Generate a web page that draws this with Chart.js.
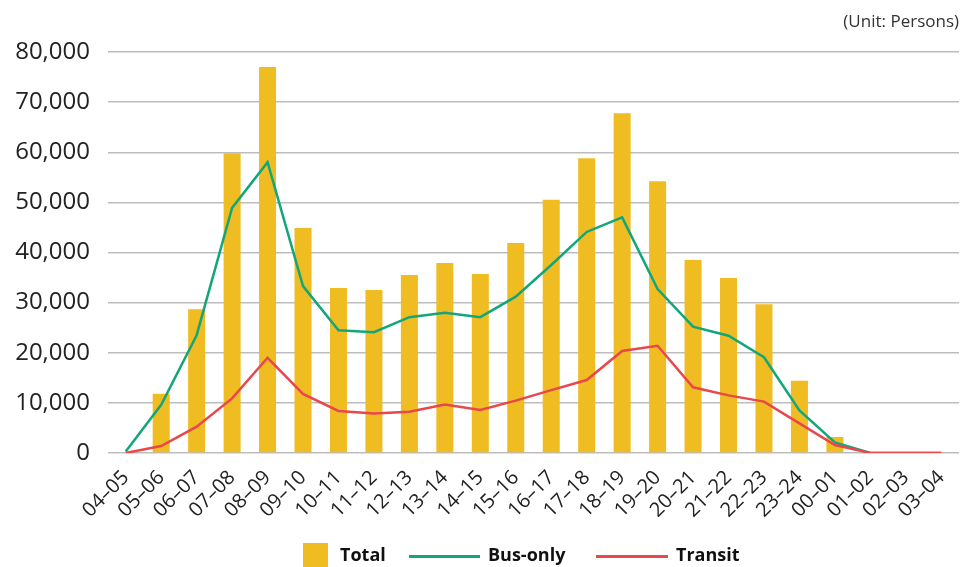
<!DOCTYPE html>
<html>
<head>
<meta charset="utf-8">
<script src="https://cdn.jsdelivr.net/npm/chart.js@4.4.0/dist/chart.umd.min.js"></script>
<style>
  html, body { margin: 0; padding: 0; background: #fff; }
  #wrap { position: relative; width: 963px; height: 567px; }
  #unit { position: absolute; right: 4px; top: 9px; font-family: 'Open Sans', sans-serif; font-size: 17px; color: #333; }
  #legend { position: absolute; left: 0; top: 543px; width: 963px; height: 24px; font-family: 'Open Sans', sans-serif; font-weight: bold; font-size: 18px; color: #111; }
  .lg { position: absolute; }
</style>
</head>
<body>
<div id="wrap">
  <canvas id="c" width="963" height="567"></canvas>
  <div id="unit">(Unit: Persons)</div>
  <div id="legend">
    <div class="lg" style="left:303px;top:0;width:25px;height:24px;background:#EFBD22"></div>
    <div class="lg" style="left:340px;top:-1px;">Total</div>
    <div class="lg" style="left:409px;top:12px;width:71px;height:3px;background:#13A67A"></div>
    <div class="lg" style="left:488px;top:-1px;">Bus-only</div>
    <div class="lg" style="left:596px;top:12px;width:72px;height:3px;background:#E8474C"></div>
    <div class="lg" style="left:676px;top:-1px;">Transit</div>
  </div>
</div>
<script>
const categories = ['04–05','05–06','06–07','07–08','08–09','09–10','10–11','11–12','12–13','13–14','14–15','15–16','16–17','17–18','18–19','19–20','20–21','21–22','22–23','23–24','00–01','01–02','02–03','03–04'];
const totalValues = [0, 11800, 28700, 59800, 77000, 44900, 32900, 32500, 35500, 37900, 35700, 41900, 50500, 58800, 67800, 54200, 38500, 34900, 29700, 14400, 3200, 0, 0, 0];
const busOnlyValues = [300, 9600, 23500, 48900, 58000, 33300, 24500, 24100, 27100, 28000, 27100, 31200, 37500, 44100, 47000, 32700, 25200, 23400, 19100, 8500, 2100, 0, 0, 0];
const transitValues = [0, 1400, 5250, 10900, 19000, 11800, 8400, 7900, 8250, 9650, 8600, 10450, 12550, 14550, 20350, 21400, 13100, 11500, 10250, 5900, 1600, 0, 0, 0];
const yTicks = [0, 10000, 20000, 30000, 40000, 50000, 60000, 70000, 80000];

new Chart(document.getElementById('c'), {
  data: {
    labels: categories,
    datasets: [
      { type: 'line', label: 'Bus-only', data: busOnlyValues, borderColor: '#13A67A', borderWidth: 2.5, pointRadius: 0, tension: 0, fill: false, order: 1 },
      { type: 'line', label: 'Transit', data: transitValues, borderColor: '#E8474C', borderWidth: 2.5, pointRadius: 0, tension: 0, fill: false, order: 0 },
      { type: 'bar', label: 'Total', data: totalValues, backgroundColor: '#EFBD22', barPercentage: 0.48, categoryPercentage: 1.0, order: 2 }
    ]
  },
  options: {
    responsive: false,
    animation: false,
    layout: { padding: { top: 52, right: 4, left: 0, bottom: 0 } },
    plugins: { legend: { display: false }, tooltip: { enabled: false } },
    scales: {
      x: {
        offset: true,
        grid: { display: false, drawTicks: false },
        border: { display: false },
        ticks: { autoSkip: false, minRotation: 45, maxRotation: 45, padding: 13, color: '#222', font: { family: 'Open Sans', size: 20 } },
        afterFit: (s) => { s.height = 114; s.paddingLeft = 0; s.paddingRight = 0; }
      },
      y: {
        min: 0, max: 80000,
        afterBuildTicks: (s) => { s.ticks = yTicks.map(v => ({ value: v })); },
        grid: { color: '#bdbdbd', lineWidth: 1.5, drawTicks: false },
        border: { display: false },
        ticks: { padding: 18, color: '#222', font: { family: 'Open Sans', size: 24 }, callback: (v) => v.toLocaleString('en-US') },
        afterFit: (s) => { s.width = 108; s.paddingTop = 0; s.paddingBottom = 0; }
      }
    }
  }
});
</script>
</body>
</html>
